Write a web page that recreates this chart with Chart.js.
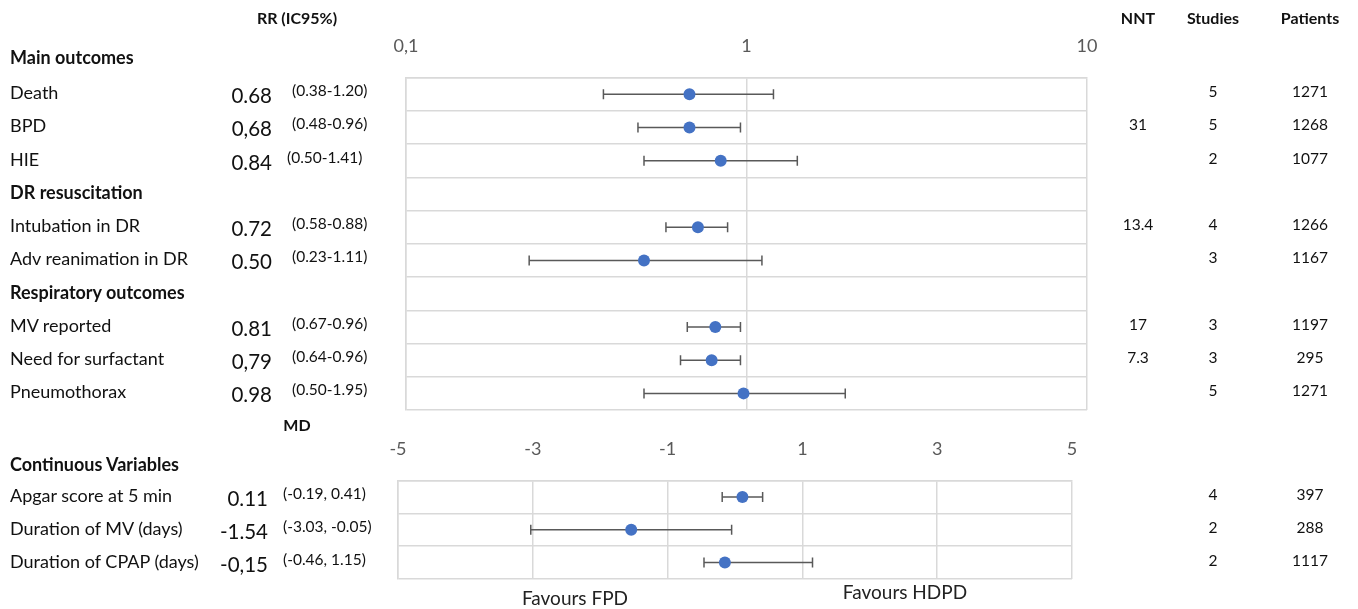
<!DOCTYPE html>
<html>
<head>
<meta charset="utf-8">
<script src="https://cdn.jsdelivr.net/npm/chart.js@4/dist/chart.umd.min.js"></script>
<style>
  body { margin: 0; background: #fff; }
  #wrap { position: relative; width: 1358px; height: 609px; overflow: hidden; font-family: Lato, "Open Sans", sans-serif; color: #111; }
  canvas { position: absolute; left: 0; }
  .t { position: absolute; white-space: nowrap; line-height: 1; }
  .lbl { font-size: 18px; }
  .val { font-size: 20.5px; }
  .ci { font-size: 15.5px; }
  .num { font-size: 15.5px; }
  .hd { font-size: 16px; font-weight: bold; }
  .sec { font-size: 18px; font-weight: bold; }
  .fav { font-size: 19px; color: #222; }
</style>
</head>
<body>
<div id="wrap">
  <canvas id="rr-chart" width="1358" height="420" style="top:0"></canvas>
  <canvas id="md-chart" width="1358" height="209" style="top:400px"></canvas>
</div>
<script>
// risk ratio rows (section rows carry no estimate)
const rrRows = ['Death', 'BPD', 'HIE', 'DR resuscitation', 'Intubation in DR', 'Adv reanimation in DR',
  'Respiratory outcomes', 'MV reported', 'Need for surfactant', 'Pneumothorax'];
const rrSection = [false, false, false, true, false, false, true, false, false, false];
const rrEstimate = [0.68, 0.68, 0.84, null, 0.72, 0.50, null, 0.81, 0.79, 0.98];
const rrLow = [0.38, 0.48, 0.50, null, 0.58, 0.23, null, 0.67, 0.64, 0.50];
const rrHigh = [1.20, 0.96, 1.41, null, 0.88, 1.11, null, 0.96, 0.96, 1.95];
const rrValueText = ['0.68', '0,68', '0.84', '', '0.72', '0.50', '', '0.81', '0,79', '0.98'];
const rrCIText = ['(0.38-1.20)', '(0.48-0.96)', '(0.50-1.41)', '', '(0.58-0.88)', '(0.23-1.11)', '',
  '(0.67-0.96)', '(0.64-0.96)', '(0.50-1.95)'];
const rrNNT = ['', '31', '', '', '13.4', '', '', '17', '7.3', ''];
const rrStudies = ['5', '5', '2', '', '4', '3', '', '3', '3', '5'];
const rrPatients = ['1271', '1268', '1077', '', '1266', '1167', '', '1197', '295', '1271'];
const rrTicks = [0.1, 1, 10];
const rrTickLabels = ['0,1', '1', '10'];

// mean difference rows
const mdRows = ['Apgar score at 5 min', 'Duration of MV (days)', 'Duration of CPAP (days)'];
const mdEstimate = [0.11, -1.54, -0.15];
const mdLow = [-0.19, -3.03, -0.46];
const mdHigh = [0.41, -0.05, 1.15];
const mdValueText = ['0.11', '-1.54', '-0,15'];
const mdCIText = ['(-0.19, 0.41)', '(-3.03, -0.05)', '(-0.46, 1.15)'];
const mdStudies = ['4', '2', '2'];
const mdPatients = ['397', '288', '1117'];

const FONT = 'Lato, "Open Sans", sans-serif';
const GRID = '#d9d9d9';
const DOT = '#4472c4';
const WHISKER = '#595959';

function forestDatasets(est, low, high) {
  const sets = [{
    data: est.map((v, i) => v == null ? null : { x: v, y: i + 0.5 }).filter(d => d),
    pointRadius: 6,
    pointHoverRadius: 6,
    backgroundColor: DOT,
    borderWidth: 0,
  }];
  est.forEach((v, i) => {
    if (v == null) return;
    sets.push({
      data: [{ x: low[i], y: i + 0.5 }, { x: high[i], y: i + 0.5 }],
      showLine: true,
      borderColor: WHISKER,
      borderWidth: 1.5,
      pointStyle: 'line',
      rotation: 90,
      pointRadius: 5,
      pointHoverRadius: 5,
      pointBorderColor: WHISKER,
      pointBorderWidth: 1.5,
    });
  });
  return sets;
}

function yAxis(n) {
  return {
    min: 0, max: n, reverse: true,
    ticks: { display: false, stepSize: 1 },
    grid: { color: GRID, drawTicks: false, lineWidth: 1.5 },
    border: { color: GRID, width: 1.5 },
  };
}

const common = {
  responsive: false,
  animation: false,
  plugins: { legend: { display: false }, tooltip: { enabled: false } },
  events: [],
};

const rrChart = new Chart(document.getElementById('rr-chart'), {
  type: 'scatter',
  data: { datasets: forestDatasets(rrEstimate, rrLow, rrHigh) },
  options: {
    ...common,
    layout: { padding: { left: 406, right: 271, top: 14, bottom: 10 } },
    scales: {
      x: {
        type: 'logarithmic', position: 'top', min: 0.1, max: 10,
        afterBuildTicks: (s) => { s.ticks = rrTicks.map(v => ({ value: v })); },
        ticks: {
          callback: (v, i) => rrTickLabels[i],
          font: { family: FONT, size: 18 }, color: '#595959', padding: 21,
        },
        grid: { color: GRID, drawTicks: false, lineWidth: 1.5 },
        border: { color: GRID, width: 1.5 },
      },
      y: yAxis(rrRows.length),
    },
  },
});

const mdChart = new Chart(document.getElementById('md-chart'), {
  type: 'scatter',
  data: { datasets: forestDatasets(mdEstimate, mdLow, mdHigh) },
  options: {
    ...common,
    layout: { padding: { left: 398, right: 286, top: 17, bottom: 30 } },
    scales: {
      x: {
        type: 'linear', position: 'top', min: -5, max: 5,
        ticks: {
          stepSize: 2,
          font: { family: FONT, size: 18 }, color: '#595959', padding: 21,
        },
        grid: { color: GRID, drawTicks: false, lineWidth: 1.5 },
        border: { color: GRID, width: 1.5 },
      },
      y: yAxis(mdRows.length),
    },
  },
});

// table text, placed on the chart rows
const wrap = document.getElementById('wrap');
function put(text, x, y, align, cls) {
  if (!text) return;
  const d = document.createElement('div');
  d.className = 't ' + cls;
  d.textContent = text;
  d.style.left = x + 'px';
  d.style.top = y + 'px';
  const tx = align === 'right' ? '-100%' : align === 'center' ? '-50%' : '0';
  d.style.transform = 'translate(' + tx + ', -50%)';
  wrap.appendChild(d);
}

put('RR (IC95%)', 297, 18, 'center', 'hd');
put('NNT', 1138, 18, 'center', 'hd');
put('Studies', 1213, 18, 'center', 'hd');
put('Patients', 1310, 18, 'center', 'hd');
put('Main outcomes', 10, 57, 'left', 'sec');

rrRows.forEach((name, i) => {
  const y = rrChart.scales.y.getPixelForValue(i + 0.5) - 2;
  if (rrSection[i]) { put(name, 10, y, 'left', 'sec'); return; }
  put(name, 10, y, 'left', 'lbl');
  put(rrValueText[i], 272, y + 3, 'right', 'val');
  put(rrCIText[i], i === 2 ? 287 : 292, y - 1, 'left', 'ci');
  put(rrNNT[i], 1138, y, 'center', 'num');
  put(rrStudies[i], 1213, y, 'center', 'num');
  put(rrPatients[i], 1310, y, 'center', 'num');
});

put('MD', 297, 425, 'center', 'hd');
put('Continuous Variables', 10, 464, 'left', 'sec');

mdRows.forEach((name, i) => {
  const y = 400 + mdChart.scales.y.getPixelForValue(i + 0.5) - 2;
  put(name, 10, y, 'left', 'lbl');
  put(mdValueText[i], 268, y + 3, 'right', 'val');
  put(mdCIText[i], 283, y - 1, 'left', 'ci');
  put(mdStudies[i], 1213, y, 'center', 'num');
  put(mdPatients[i], 1310, y, 'center', 'num');
});

put('Favours FPD', 575, 597, 'center', 'fav');
put('Favours HDPD', 905, 591, 'center', 'fav');
</script>
</body>
</html>
